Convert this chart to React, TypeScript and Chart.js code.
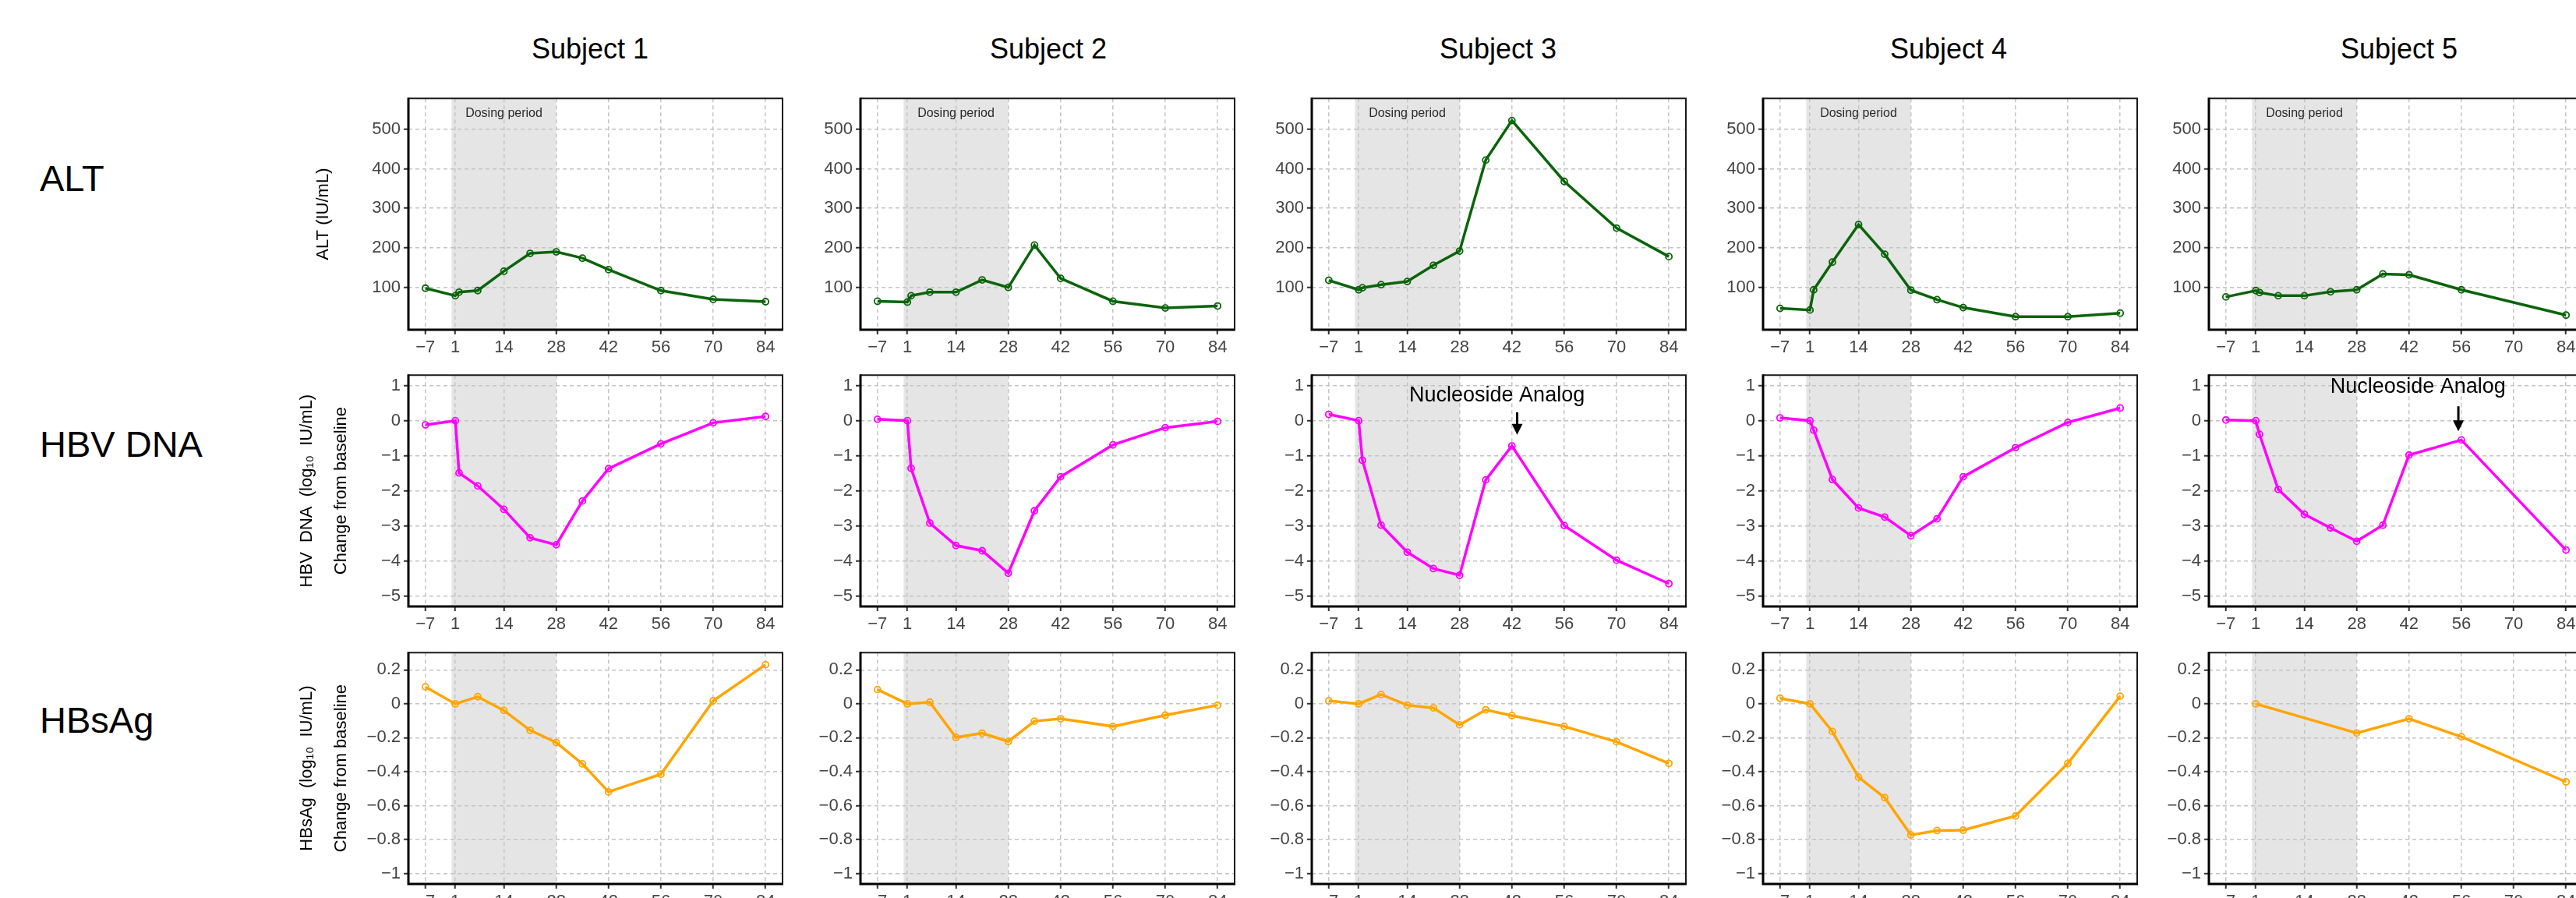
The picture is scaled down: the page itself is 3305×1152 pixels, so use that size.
import React, { useEffect, useRef } from 'react';
import { Chart, registerables } from 'chart.js';

Chart.register(...registerables);

const FONT = '"Liberation Sans", Arial, Helvetica, sans-serif';

// ---- categories / labels ----
const SUBJECTS = ['Subject 1', 'Subject 2', 'Subject 3', 'Subject 4', 'Subject 5'];
const MEASURES = ['ALT', 'HBV DNA', 'HBsAg'];
const X_TICKS = [-7, 1, 14, 28, 42, 56, 70, 84];
const Y_TICKS_ALT = [100, 200, 300, 400, 500];
const Y_TICKS_HBV = [1, 0, -1, -2, -3, -4, -5];
const Y_TICKS_HBSAG = [0.2, 0, -0.2, -0.4, -0.6, -0.8, -1];

// ---- study days sampled ----
const DAYS = [-7, 1, 2, 7, 14, 21, 28, 35, 42, 56, 70, 84];
const DAYS_NO_D2 = [-7, 1, 7, 14, 21, 28, 35, 42, 56, 70, 84];
const DAYS_S5 = [-7, 1, 2, 7, 14, 21, 28, 35, 42, 56, 84];
const DAYS_S5_HBSAG = [1, 28, 42, 56, 84];

// ---- ALT (IU/mL) ----
const ALT_S1 = [98, 79, 88, 92, 141, 186, 190, 174, 145, 92, 70, 64];
const ALT_S2 = [65, 63, 79, 88, 88, 119, 100, 207, 123, 65, 48, 53];
const ALT_S3 = [118, 94, 99, 107, 115, 156, 192, 422, 522, 368, 250, 178];
const ALT_S4 = [47, 43, 94, 164, 259, 184, 93, 69, 49, 26, 26, 35];
const ALT_S5 = [76, 92, 87, 79, 79, 89, 94, 134, 132, 94, 30];

// ---- HBV DNA change from baseline (log10 IU/mL) ----
const HBV_S1 = [-0.12, 0, -1.49, -1.86, -2.53, -3.34, -3.54, -2.29, -1.37, -0.66, -0.06, 0.12];
const HBV_S2 = [0.04, 0, -1.36, -2.92, -3.56, -3.71, -4.35, -2.57, -1.6, -0.69, -0.2, -0.02];
const HBV_S3 = [0.18, 0, -1.13, -2.98, -3.75, -4.22, -4.41, -1.69, -0.72, -2.99, -3.98, -4.65];
const HBV_S4 = [0.08, 0, -0.27, -1.68, -2.49, -2.75, -3.28, -2.8, -1.6, -0.77, -0.05, 0.36];
const HBV_S5 = [0.02, 0, -0.39, -1.96, -2.67, -3.06, -3.44, -2.98, -0.98, -0.55, -3.69];

// ---- HBsAg change from baseline (log10 IU/mL) ----
const HBSAG_S1 = [0.1, 0, 0.042, -0.039, -0.156, -0.228, -0.354, -0.519, -0.415, 0.018, 0.231];
const HBSAG_S2 = [0.084, 0, 0.01, -0.198, -0.173, -0.222, -0.102, -0.088, -0.133, -0.067, -0.008];
const HBSAG_S3 = [0.018, 0, 0.055, -0.008, -0.024, -0.124, -0.035, -0.069, -0.133, -0.224, -0.351];
const HBSAG_S4 = [0.033, 0, -0.163, -0.433, -0.553, -0.773, -0.747, -0.745, -0.661, -0.351, 0.045];
const HBSAG_S5 = [0, -0.172, -0.088, -0.194, -0.46];

// dosing window and annotation anchors (data coordinates)
const DOSING = [0, 28];
const DOSING_LABEL = { text: 'Dosing period', x: 14, y: 540 };
const NA_TEXT = 'Nucleoside Analog';
const NA_S3 = { textX: 38, textY: 0.71, arrowX: 43.4, arrowFrom: 0.24, arrowTo: -0.4 };
const NA_S5 = { textX: 44.4, textY: 0.95, arrowX: 55.2, arrowFrom: 0.41, arrowTo: -0.3 };

// ---- layout ----
const BOX_LEFT = [524, 1104, 1683, 2262, 2834];
const BOX_W = [480, 480, 480, 480, 480];
const BOX_TOP = [121, 476, 832];
const BOX_H = 302;
const PAD_T = 12;
const PAD_R = 12;
const PAD_B = 44;
const PAD_L = 90;
const PAD_L_TITLE = 154;

const TITLE_X = [757, 1345, 1922, 2500, 3078];
const TITLE_Y = 63;
const ROW_LABEL_Y = [228, 569, 923];

const COLORS = ['#0b640b', '#ff00ff', '#ffa500'];
const GRID = '#c4c4c4';

type Note = { textX: number; textY: number; arrowX: number; arrowFrom: number; arrowTo: number };

type PanelSpec = {
  row: number;
  col: number;
  days: number[];
  values: number[];
  yMin: number;
  yMax: number;
  yTicks: number[];
  title?: string | string[];
  titlePad?: number;
  note?: Note;
};

const Y_RANGE = [
  [-7, 578],
  [-5.3, 1.3],
  [-1.062, 0.302],
];
const Y_TICKS = [Y_TICKS_ALT, Y_TICKS_HBV, Y_TICKS_HBSAG];
const Y_TITLES: (string | string[])[] = [
  'ALT (IU/mL)',
  ['HBV  DNA  (log\u2081\u2080  IU/mL)', 'Change from baseline'],
  ['HBsAg  (log\u2081\u2080  IU/mL)', 'Change from baseline'],
];
const Y_TITLE_PAD = [23, 2, 2];

const SERIES: { days: number[]; values: number[] }[][] = [
  [
    { days: DAYS, values: ALT_S1 },
    { days: DAYS, values: ALT_S2 },
    { days: DAYS, values: ALT_S3 },
    { days: DAYS, values: ALT_S4 },
    { days: DAYS_S5, values: ALT_S5 },
  ],
  [
    { days: DAYS, values: HBV_S1 },
    { days: DAYS, values: HBV_S2 },
    { days: DAYS, values: HBV_S3 },
    { days: DAYS, values: HBV_S4 },
    { days: DAYS_S5, values: HBV_S5 },
  ],
  [
    { days: DAYS_NO_D2, values: HBSAG_S1 },
    { days: DAYS_NO_D2, values: HBSAG_S2 },
    { days: DAYS_NO_D2, values: HBSAG_S3 },
    { days: DAYS_NO_D2, values: HBSAG_S4 },
    { days: DAYS_S5_HBSAG, values: HBSAG_S5 },
  ],
];

const fmt = (v: number | string) => String(v).replace('-', '\u2212');

const decorPlugin = {
  id: 'panelDecor',
  beforeDraw(chart: any) {
    const { ctx, chartArea, scales } = chart;
    const x0 = scales.x.getPixelForValue(DOSING[0]);
    const x1 = scales.x.getPixelForValue(DOSING[1]);
    ctx.save();
    ctx.fillStyle = '#e5e5e5';
    ctx.fillRect(x0, chartArea.top, x1 - x0, chartArea.bottom - chartArea.top);
    ctx.restore();
  },
  afterDraw(chart: any, _args: any, opts: any) {
    const { ctx, chartArea, scales } = chart;
    const { left, right, top, bottom } = chartArea;
    ctx.save();
    // panel frame
    ctx.strokeStyle = '#1a1a1a';
    ctx.lineWidth = 2;
    ctx.beginPath();
    ctx.moveTo(left, top);
    ctx.lineTo(right, top);
    ctx.lineTo(right, bottom);
    ctx.stroke();
    ctx.strokeStyle = '#000';
    ctx.lineWidth = 3;
    ctx.beginPath();
    ctx.moveTo(left, top - 1);
    ctx.lineTo(left, bottom);
    ctx.lineTo(right + 1, bottom);
    ctx.stroke();

    if (opts.dosing) {
      ctx.fillStyle = '#2b2b2b';
      ctx.font = `16px ${FONT}`;
      ctx.textAlign = 'center';
      ctx.textBaseline = 'middle';
      ctx.fillText(
        DOSING_LABEL.text,
        scales.x.getPixelForValue(DOSING_LABEL.x),
        scales.y.getPixelForValue(DOSING_LABEL.y)
      );
    }
    const note: Note | undefined = opts.note;
    if (note) {
      ctx.fillStyle = '#000';
      ctx.strokeStyle = '#000';
      ctx.font = `27px ${FONT}`;
      ctx.textAlign = 'center';
      ctx.textBaseline = 'middle';
      ctx.fillText(NA_TEXT, scales.x.getPixelForValue(note.textX), scales.y.getPixelForValue(note.textY));
      const ax = scales.x.getPixelForValue(note.arrowX);
      const ay1 = scales.y.getPixelForValue(note.arrowFrom);
      const ay2 = scales.y.getPixelForValue(note.arrowTo);
      const head = 14;
      ctx.lineWidth = 3;
      ctx.beginPath();
      ctx.moveTo(ax, ay1);
      ctx.lineTo(ax, ay2 - head + 2);
      ctx.stroke();
      ctx.beginPath();
      ctx.moveTo(ax - 7, ay2 - head);
      ctx.lineTo(ax + 7, ay2 - head);
      ctx.lineTo(ax, ay2);
      ctx.closePath();
      ctx.fill();
    }
    ctx.restore();
  },
};

function Panel({ spec }: { spec: PanelSpec }) {
  const ref = useRef<HTMLCanvasElement | null>(null);
  const padL = spec.title ? PAD_L_TITLE : PAD_L;
  const boxW = BOX_W[spec.col];
  const width = padL + boxW + PAD_R;
  const height = PAD_T + BOX_H + PAD_B;
  const left = BOX_LEFT[spec.col] - padL;
  const top = BOX_TOP[spec.row] - PAD_T;

  useEffect(() => {
    if (!ref.current) return;
    const color = COLORS[spec.row];
    const points = spec.days.map((d, i) => ({ x: d, y: spec.values[i] }));
    const tickFont = { family: FONT, size: 22 };
    const chart = new Chart(ref.current, {
      type: 'line',
      data: {
        datasets: [
          {
            data: points,
            borderColor: color,
            borderWidth: 3.5,
            pointRadius: 4,
            pointBorderWidth: 1.8,
            pointBorderColor: color,
            pointBackgroundColor: 'rgba(255,255,255,0)',
            tension: 0,
            fill: false,
          },
        ],
      },
      options: {
        animation: false,
        responsive: false,
        devicePixelRatio: 1,
        events: [],
        layout: { padding: { left: 0, top: PAD_T, right: PAD_R, bottom: 0 } },
        plugins: {
          legend: { display: false },
          tooltip: { enabled: false },
          panelDecor: { dosing: spec.row === 0, note: spec.note },
        } as any,
        scales: {
          x: {
            type: 'linear',
            min: -11.55,
            max: 88.55,
            afterBuildTicks: (axis: any) => {
              axis.ticks = X_TICKS.map((v) => ({ value: v }));
            },
            afterFit: (scale: any) => {
              scale.height = PAD_B;
            },
            ticks: {
              callback: (v: any) => fmt(v),
              font: tickFont,
              color: '#444',
              padding: 4,
              maxRotation: 0,
              autoSkip: false,
            },
            grid: { color: GRID, lineWidth: 1.5, tickColor: '#333', tickLength: 6, tickWidth: 2 },
            border: { display: false, dash: [5, 4] },
          },
          y: {
            type: 'linear',
            min: spec.yMin,
            max: spec.yMax,
            afterBuildTicks: (axis: any) => {
              axis.ticks = spec.yTicks.map((v) => ({ value: v }));
            },
            afterFit: (scale: any) => {
              scale.width = padL;
            },
            ticks: {
              callback: (v: any) => fmt(v),
              font: tickFont,
              color: '#444',
              padding: 4,
              autoSkip: false,
            },
            title: spec.title
              ? {
                  display: true,
                  text: spec.title,
                  color: '#000',
                  font: { family: FONT, size: 22, lineHeight: 2 },
                  padding: { top: spec.titlePad ?? 0, bottom: 0 },
                }
              : { display: false },
            grid: { color: GRID, lineWidth: 1.5, tickColor: '#333', tickLength: 6, tickWidth: 2 },
            border: { display: false, dash: [5, 4] },
          },
        },
      },
      plugins: [decorPlugin as any],
    });
    return () => chart.destroy();
  }, []);

  return (
    <canvas
      ref={ref}
      width={width}
      height={height}
      style={{ position: 'absolute', left, top, width, height }}
    />
  );
}

export default function App() {
  const panels: PanelSpec[] = [];
  for (let row = 0; row < MEASURES.length; row++) {
    for (let col = 0; col < SUBJECTS.length; col++) {
      const s = SERIES[row][col];
      panels.push({
        row,
        col,
        days: s.days,
        values: s.values,
        yMin: Y_RANGE[row][0],
        yMax: Y_RANGE[row][1],
        yTicks: Y_TICKS[row],
        title: col === 0 ? Y_TITLES[row] : undefined,
        titlePad: Y_TITLE_PAD[row],
        note: row === 1 && col === 2 ? NA_S3 : row === 1 && col === 4 ? NA_S5 : undefined,
      });
    }
  }

  return (
    <div
      style={{
        position: 'absolute',
        left: 0,
        top: 0,
        width: 3305,
        height: 1152,
        overflow: 'hidden',
        background: '#fff',
        fontFamily: FONT,
      }}
    >
      {SUBJECTS.map((s, i) => (
        <div
          key={s}
          style={{
            position: 'absolute',
            left: TITLE_X[i],
            top: TITLE_Y,
            transform: 'translate(-50%, -50%)',
            fontSize: 36,
            color: '#000',
            whiteSpace: 'nowrap',
          }}
        >
          {s}
        </div>
      ))}
      {MEASURES.map((m, i) => (
        <div
          key={m}
          style={{
            position: 'absolute',
            left: 51,
            top: ROW_LABEL_Y[i],
            transform: 'translateY(-50%)',
            fontSize: 47,
            color: '#000',
            whiteSpace: 'nowrap',
          }}
        >
          {m}
        </div>
      ))}
      {panels.map((p) => (
        <Panel key={`${p.row}-${p.col}`} spec={p} />
      ))}
    </div>
  );
}
